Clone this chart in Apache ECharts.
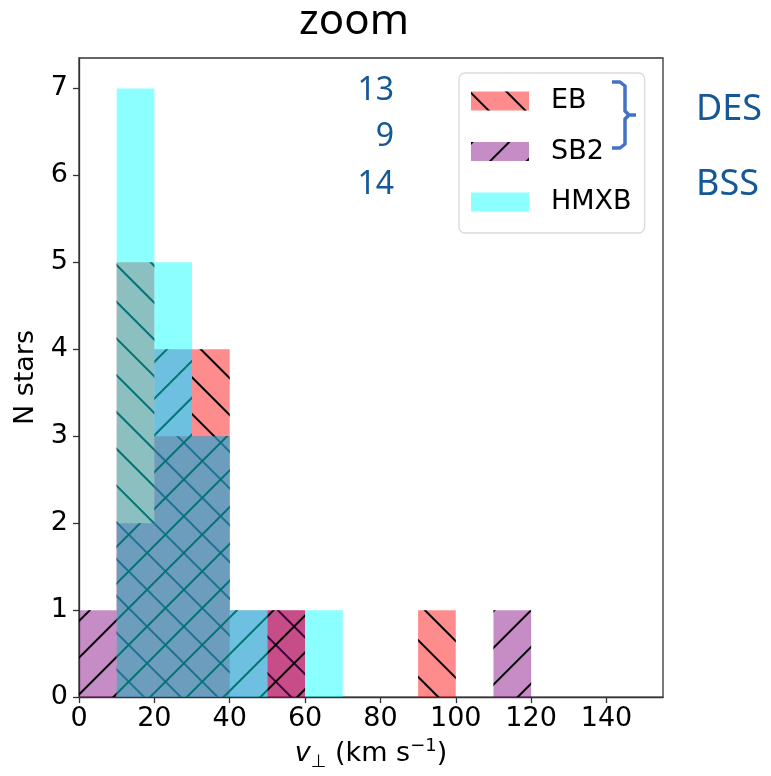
<!DOCTYPE html>
<html>
<head>
<meta charset="utf-8">
<script src="https://cdn.jsdelivr.net/npm/echarts@6/dist/echarts.min.js"></script>
<style>
  html, body { margin: 0; padding: 0; background: #ffffff; }
  #chart { width: 771px; height: 776px; }
</style>
</head>
<body>
<div id="chart"></div>
<script>
// Histogram bins (left edges, km/s) and counts per population
const binStarts = [0, 10, 20, 30, 40, 50, 60, 70, 80, 90, 100, 110];
const binWidth = 10;
const ebCounts   = [0, 5, 3, 4, 0, 1, 0, 0, 0, 1, 0, 0];
const sb2Counts  = [1, 2, 4, 3, 1, 1, 0, 0, 0, 0, 0, 1];
const hmxbCounts = [0, 7, 5, 3, 1, 0, 1, 0, 0, 0, 0, 0];

const seriesNames = ['EB', 'SB2', 'HMXB'];
const sampleSizes = ['13', '9', '14'];
const groupLabels = ['DES', 'BSS'];

// Axis ranges and ticks
const xMin = 0, xMax = 155, xStep = 20;
const yMin = 0, yMax = 7.35, yStep = 1;

const W = 771, H = 776;
const grid = { left: 79, right: 108, top: 58, bottom: 78 };
const plotW = W - grid.left - grid.right;
const barPx = plotW * binWidth / (xMax - xMin);

const AX = '#333333';
const NOTE = '#165896';
const mono = 'DejaVu Sans';

function toBars(counts) {
  const out = [];
  counts.forEach((c, i) => { if (c > 0) out.push([binStarts[i] + binWidth / 2, c]); });
  return out;
}

function hatch(rot) {
  return {
    symbol: 'rect', symbolSize: 1, color: '#000000',
    dashArrayX: [1, 0], dashArrayY: [1.3, 23.4], rotation: rot
  };
}

const chart = echarts.init(document.getElementById('chart'), null, { renderer: 'canvas' });

chart.setOption({
  animation: false,
  backgroundColor: '#ffffff',
  grid: Object.assign({ show: true, borderColor: AX, borderWidth: 1.3, backgroundColor: 'transparent' }, grid),
  xAxis: {
    type: 'value', min: xMin, max: xMax, interval: xStep,
    axisLine: { show: true, lineStyle: { color: AX, width: 1.3 } },
    axisTick: { show: true, length: 6, lineStyle: { color: AX, width: 1.3 } },
    splitLine: { show: false },
    axisLabel: {
      color: '#000', fontFamily: mono, fontSize: 27, margin: 8, showMaxLabel: false,
      formatter: v => (v % xStep === 0 ? String(v) : '')
    },
    name: '{i|v}{sub|\u22A5}{n| (km s}{sup|\u22121}{n|)}',
    nameLocation: 'middle', nameGap: 35,
    nameTextStyle: {
      color: '#000', fontFamily: mono, fontSize: 27, lineHeight: 34,
      rich: {
        i: { fontFamily: mono, fontStyle: 'italic', fontSize: 27, lineHeight: 34, color: '#000' },
        n: { fontFamily: mono, fontSize: 27, lineHeight: 34, color: '#000' },
        sub: { fontFamily: mono, fontSize: 18, lineHeight: 16, verticalAlign: 'bottom', color: '#000' },
        sup: { fontFamily: mono, fontSize: 18, lineHeight: 18, verticalAlign: 'top', color: '#000' }
      }
    }
  },
  yAxis: {
    type: 'value', min: yMin, max: yMax, interval: yStep,
    axisLine: { show: true, lineStyle: { color: AX, width: 1.3 } },
    axisTick: { show: true, length: 6, lineStyle: { color: AX, width: 1.3 } },
    splitLine: { show: false },
    axisLabel: {
      color: '#000', fontFamily: mono, fontSize: 27, margin: 11, showMaxLabel: false,
      formatter: v => (v % yStep === 0 ? String(v) : '')
    },
    name: 'N stars', nameLocation: 'middle', nameGap: 35, nameRotate: 90,
    nameTextStyle: { color: '#000', fontFamily: mono, fontSize: 27 }
  },
  legend: {
    orient: 'vertical', left: 459, top: 73,
    data: seriesNames, icon: 'rect', selectedMode: false,
    itemWidth: 58, itemHeight: 19, itemGap: 23.5,
    padding: [14.5, 13, 17.5, 12],
    backgroundColor: 'rgba(255,255,255,0.8)', borderColor: '#dadada', borderWidth: 1.3, borderRadius: 6,
    textStyle: { fontFamily: mono, fontSize: 27, color: '#000', lineHeight: 19, padding: [0, 0, 0, 17] }
  },
  series: [
    {
      name: seriesNames[0], type: 'bar', data: toBars(ebCounts),
      barWidth: barPx, barGap: '-100%',
      itemStyle: { color: 'rgba(255,0,0,0.45)', decal: hatch(Math.PI / 4) }
    },
    {
      name: seriesNames[1], type: 'bar', data: toBars(sb2Counts),
      barWidth: barPx, barGap: '-100%',
      itemStyle: { color: 'rgba(128,0,128,0.45)', decal: hatch(-Math.PI / 4) }
    },
    {
      name: seriesNames[2], type: 'bar', data: toBars(hmxbCounts),
      barWidth: barPx, barGap: '-100%',
      itemStyle: { color: 'rgba(0,255,255,0.45)' }
    }
  ],
  graphic: [
    { type: 'text', x: 354, y: 22, z: 100,
      style: { text: 'zoom', fontFamily: 'Noto Sans', fontSize: 42, fill: '#000', textAlign: 'center', textVerticalAlign: 'middle' } },
    { type: 'text', x: 394, y: 91, z: 100,
      style: { text: sampleSizes[0], fontFamily: 'Noto Sans', fontSize: 32, fill: NOTE, textAlign: 'right', textVerticalAlign: 'middle' } },
    { type: 'text', x: 394, y: 137, z: 100,
      style: { text: sampleSizes[1], fontFamily: 'Noto Sans', fontSize: 32, fill: NOTE, textAlign: 'right', textVerticalAlign: 'middle' } },
    { type: 'text', x: 394, y: 185, z: 100,
      style: { text: sampleSizes[2], fontFamily: 'Noto Sans', fontSize: 32, fill: NOTE, textAlign: 'right', textVerticalAlign: 'middle' } },
    { type: 'text', x: 696, y: 110, z: 100,
      style: { text: groupLabels[0], fontFamily: 'Noto Sans', fontSize: 36, fill: NOTE, textAlign: 'left', textVerticalAlign: 'middle' } },
    { type: 'text', x: 696, y: 185, z: 100,
      style: { text: groupLabels[1], fontFamily: 'Noto Sans', fontSize: 36, fill: NOTE, textAlign: 'left', textVerticalAlign: 'middle' } },
    // curly bracket grouping EB and SB2
    { type: 'polyline', z: 100, shape: { points: [[612, 82], [620, 82], [625, 86], [625, 111], [629, 115], [636, 115]] },
      style: { stroke: '#4472C4', lineWidth: 3.5, fill: null, lineJoin: 'round' } },
    { type: 'polyline', z: 100, shape: { points: [[629, 115], [625, 119], [625, 144], [620, 148], [612, 148]] },
      style: { stroke: '#4472C4', lineWidth: 3.5, fill: null, lineJoin: 'round' } }
  ]
});
</script>
</body>
</html>
